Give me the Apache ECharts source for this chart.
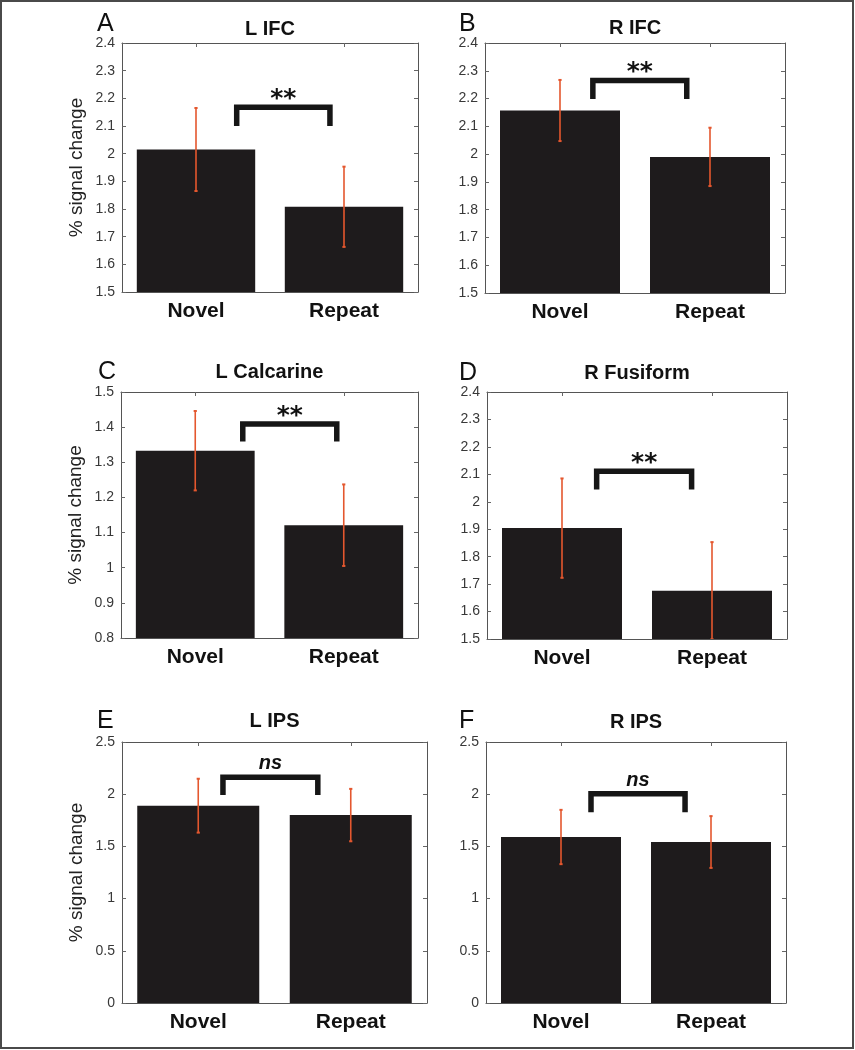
<!DOCTYPE html>
<html><head><meta charset="utf-8">
<script src="https://cdn.jsdelivr.net/npm/echarts@6/dist/echarts.min.js"></script>
<style>html,body{margin:0;padding:0;background:#fff}#c{width:855px;height:1050px}</style>
</head><body><div id="c"></div>
<script>
// ---------------- data ----------------
const categories = ['Novel', 'Repeat'];
const panelLetters = ['A', 'B', 'C', 'D', 'E', 'F'];
const panelTitles = ['L IFC', 'R IFC', 'L Calcarine', 'R Fusiform', 'L IPS', 'R IPS'];
const yAxisNames = ['% signal change', '', '% signal change', '', '% signal change', ''];

const lIFCMean = [2.015, 1.808];  const lIFCErr = [0.150, 0.145];
const rIFCMean = [2.157, 1.990];  const rIFCErr = [0.110, 0.105];
const lCalcMean = [1.333, 1.121]; const lCalcErr = [0.113, 0.116];
const rFusiMean = [1.904, 1.676]; const rFusiErr = [0.181, 0.177];
const lIPSMean = [1.890, 1.800];  const lIPSErr = [0.258, 0.251];
const rIPSMean = [1.590, 1.542];  const rIPSErr = [0.260, 0.248];

const yMin = [1.5, 1.5, 0.8, 1.5, 0, 0];
const yMax = [2.4, 2.4, 1.5, 2.4, 2.5, 2.5];
const yStep = [0.1, 0.1, 0.1, 0.1, 0.5, 0.5];

// significance brackets (x in bar-number units, 1 = Novel, 2 = Repeat)
const sigLabels = ['**', '**', '**', '**', 'ns', 'ns'];
const bracketLeft = [1.275, 1.219, 1.320, 1.231, 1.162, 1.200];
const bracketRight = [1.905, 1.845, 1.953, 1.864, 1.784, 1.827];
const bracketLow = [2.100, 2.198, 1.359, 2.045, 1.992, 1.827];
const bracketHigh = [2.168, 2.265, 1.409, 2.111, 2.163, 2.005];

const means = [lIFCMean, rIFCMean, lCalcMean, rFusiMean, lIPSMean, rIPSMean];
const errs = [lIFCErr, rIFCErr, lCalcErr, rFusiErr, lIPSErr, rIPSErr];

// ---------------- layout / style ----------------
const gridBoxes = [
  { left: 122, top: 43, width: 296, height: 249 },
  { left: 485, top: 43, width: 300, height: 250 },
  { left: 121, top: 392, width: 297, height: 246 },
  { left: 487, top: 392, width: 300, height: 247 },
  { left: 122, top: 742, width: 305, height: 261 },
  { left: 486, top: 742, width: 300, height: 261 }
];
const titleGap = [4, 5, 10, 9, 11, 10];
const letterPos = [[97, 12], [459, 12], [98, 360], [459, 361], [97, 709], [459, 709]];

const FONT = 'Liberation Sans, Arial, Helvetica, sans-serif';
const frameColor = '#555';
const tickColor = '#666';
const barColor = '#1e1b1c';
const errColor = '#e4572e';

const grid = [], xAxis = [], yAxis = [], series = [];
for (let i = 0; i < 6; i++) {
  grid.push(Object.assign({ containLabel: false }, gridBoxes[i]));
  const common = {
    gridIndex: i,
    splitLine: { show: false },
    axisLine: { show: true, onZero: false, lineStyle: { color: frameColor, width: 1 } },
    axisTick: { show: true, inside: true, length: 4, alignWithLabel: true, lineStyle: { color: tickColor } }
  };
  xAxis.push(Object.assign({}, common, {
    type: 'category', data: categories, position: 'bottom',
    axisLabel: { margin: 9, fontSize: 21, fontWeight: 'bold', color: '#111', fontFamily: FONT }
  }));
  xAxis.push(Object.assign({}, common, {
    type: 'category', data: categories, position: 'top',
    axisLabel: { show: false },
    name: panelTitles[i], nameLocation: 'middle', nameGap: titleGap[i],
    nameTextStyle: { fontSize: 20, fontWeight: 'bold', color: '#111', fontFamily: FONT }
  }));
  yAxis.push(Object.assign({}, common, {
    type: 'value', min: yMin[i], max: yMax[i], interval: yStep[i], position: 'left',
    axisLabel: { margin: 7, fontSize: 14, color: '#383838', fontFamily: FONT },
    name: yAxisNames[i], nameLocation: 'middle', nameGap: 36, nameRotate: 90,
    nameTextStyle: { fontSize: 19, color: '#222', fontFamily: FONT }
  }));
  yAxis.push(Object.assign({}, common, {
    type: 'value', min: yMin[i], max: yMax[i], interval: yStep[i], position: 'right',
    axisLabel: { show: false }
  }));

  series.push({
    type: 'bar', xAxisIndex: 2 * i, yAxisIndex: 2 * i,
    data: means[i], barWidth: '80%',
    itemStyle: { color: barColor }, silent: true
  });
  series.push({
    type: 'custom', xAxisIndex: 2 * i, yAxisIndex: 2 * i, clip: true, z: 5,
    data: means[i].map((m, j) => [j, m, errs[i][j]]),
    encode: { x: 0, y: 1 },
    renderItem: function (params, api) {
      const x = api.value(0), m = api.value(1), e = api.value(2);
      const t = api.coord([x, m + e]);
      const b = api.coord([x, m - e]);
      const cap = 1.6;
      return {
        type: 'group', children: [
          { type: 'line', shape: { x1: t[0], y1: t[1], x2: b[0], y2: b[1] }, style: { stroke: errColor, lineWidth: 1.6 } },
          { type: 'line', shape: { x1: t[0] - cap, y1: t[1], x2: t[0] + cap, y2: t[1] }, style: { stroke: errColor, lineWidth: 2 } },
          { type: 'line', shape: { x1: b[0] - cap, y1: b[1], x2: b[0] + cap, y2: b[1] }, style: { stroke: errColor, lineWidth: 2 } }
        ]
      };
    }
  });
  const isStars = sigLabels[i] === '**';
  series.push({
    type: 'custom', xAxisIndex: 2 * i, yAxisIndex: 2 * i, z: 6,
    data: [[0, bracketHigh[i], bracketLeft[i], bracketRight[i], bracketLow[i]]],
    encode: { x: 0, y: 1 },
    renderItem: function (params, api) {
      const base = api.coord([0, api.value(1)]);
      const bw = api.size([1, 0])[0];
      const xl = base[0] + (api.value(2) - 1) * bw;
      const xr = base[0] + (api.value(3) - 1) * bw;
      const yh = base[1];
      const yl = api.coord([0, api.value(4)])[1];
      const lw = 5.5;
      const topEdge = yh - lw / 2;
      const ty = isStars ? topEdge - 5 : topEdge - 10.5;
      return {
        type: 'group', children: [
          { type: 'polyline', shape: { points: [[xl, yl], [xl, yh], [xr, yh], [xr, yl]] },
            style: { stroke: '#161616', lineWidth: lw, fill: null, lineJoin: 'miter', lineCap: 'butt' } },
          { type: 'text', x: (xl + xr) / 2, y: ty,
            style: {
              text: sigLabels[i], fill: '#111',
              fontSize: isStars ? 25 : 20, fontWeight: 'bold', fontStyle: isStars ? 'normal' : 'italic',
              fontFamily: isStars ? 'DejaVu Sans, sans-serif' : FONT,
              align: 'center', verticalAlign: 'middle', textAlign: 'center', textVerticalAlign: 'middle'
            } }
        ]
      };
    }
  });
}

const graphic = [{
  type: 'rect', shape: { x: 1, y: 1, width: 852, height: 1047 },
  style: { fill: 'transparent', stroke: '#4a4a4a', lineWidth: 2 }, z: 100
}];
for (let i = 0; i < 6; i++) {
  graphic.push({
    type: 'text', x: letterPos[i][0], y: letterPos[i][1],
    style: { text: panelLetters[i], fontSize: 25, fontFamily: FONT, fill: '#111', align: 'left', verticalAlign: 'top' }
  });
}

const chart = echarts.init(document.getElementById('c'), null, { renderer: 'canvas' });
chart.setOption({
  animation: false,
  backgroundColor: '#fff',
  textStyle: { fontFamily: FONT },
  grid, xAxis, yAxis, series, graphic
});
</script>
</body></html>
